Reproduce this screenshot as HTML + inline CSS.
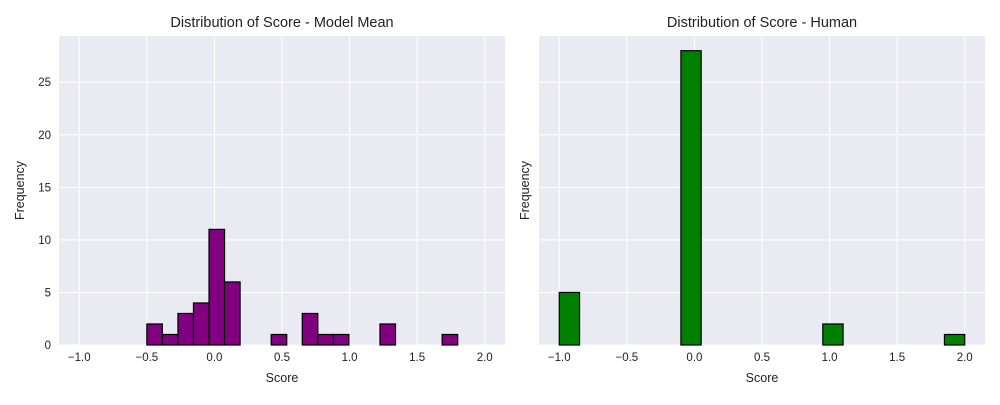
<!DOCTYPE html>
<html><head><meta charset="utf-8">
<style>
body{margin:0;background:#fff;font-family:"Liberation Sans",sans-serif;}
svg text{font-family:"Liberation Sans",sans-serif;fill:#222;}
</style></head>
<body>
<svg id="chart" width="1000" height="400" xmlns="http://www.w3.org/2000/svg"></svg>
<script>
const leftCounts=[2,1,3,4,11,6,0,0,1,0,3,1,1,0,0,2,0,0,0,1];
const leftRange=[-0.5,1.8];
const rightCounts=[5,0,0,0,0,0,28,0,0,0,0,0,0,2,0,0,0,0,0,1];
const rightRange=[-1,2];
const xTicks=[-1.0,-0.5,0.0,0.5,1.0,1.5,2.0];
const yTicks=[0,5,10,15,20,25];
const titles=["Distribution of Score - Model Mean","Distribution of Score - Human"];

const svg=document.getElementById('chart');
const NS='http://www.w3.org/2000/svg';
function mk(t,a,p){const e=document.createElementNS(NS,t);for(const k in a)e.setAttribute(k,a[k]);(p||svg).appendChild(e);return e;}
const plotTop=36,plotBottom=345,xmin=-1.15,xmax=2.15,ymaxVal=29.4;
function panel(x0,x1,counts,range,color,title,showY,idx){
  const g=mk('g',{});
  
  
  const X=v=>x0+(v-xmin)/(xmax-xmin)*(x1-x0);
  const Y=v=>plotBottom-v/ymaxVal*(plotBottom-plotTop);
  const bg=mk('rect',{x:x0,y:plotTop,width:x1-x0,height:plotBottom-plotTop,fill:'#eaeaf2'},g);
  
  
  xTicks.forEach(t=>{
    const l=mk('line',{x1:X(t),x2:X(t),y1:plotTop,y2:plotBottom,stroke:'#fff','stroke-width':1},g);
    
    
    const tx=mk('text',{x:X(t),y:plotBottom+16,'text-anchor':'middle','font-size':11.5},g);
    tx.textContent=(t<0?'\u2212':'')+Math.abs(t).toFixed(1);
    
    
  });
  yTicks.forEach(t=>{
    const l=mk('line',{x1:x0,x2:x1,y1:Y(t),y2:Y(t),stroke:'#fff','stroke-width':1},g);
    
    
    if(showY){
      const tx=mk('text',{x:x0-8,y:Y(t)+4,'text-anchor':'end','font-size':11.5},g);
      tx.textContent=t;
      
      
    }
  });
  const w=(range[1]-range[0])/counts.length;
  counts.forEach((c,i)=>{
    if(c<=0)return;
    const a=range[0]+i*w,b=a+w;
    const r=mk('rect',{x:X(a),y:Y(c),width:X(b)-X(a),height:Y(0)-Y(c),fill:color,stroke:'#000','stroke-width':1.2},g);
    
    
  });
  const tt=mk('text',{x:(x0+x1)/2,y:27,'text-anchor':'middle','font-size':14.5},g);
  tt.textContent=title;
  
  
  const xl=mk('text',{x:(x0+x1)/2,y:382,'text-anchor':'middle','font-size':12.5},g);
  xl.textContent='Score';
  
  
  const yx=x0-(showY?35:10);
  const yc=(plotTop+plotBottom)/2;
  const yl=mk('text',{x:yx,y:yc,'text-anchor':'middle','font-size':12.5,transform:`rotate(-90 ${yx} ${yc})`},g);
  yl.textContent='Frequency';
  
  
}
panel(59,505,leftCounts,leftRange,'#800080',titles[0],true,'model-mean');
panel(539,985,rightCounts,rightRange,'#008000',titles[1],false,'human');
</script>
</body></html>
